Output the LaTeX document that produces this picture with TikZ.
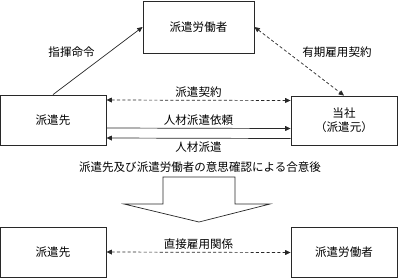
\documentclass[tikz,border=0pt]{standalone}
\usepackage{fontspec}
\newfontfamily\jpfont{Noto Sans CJK JP}
\usepackage{tikz}
\usetikzlibrary{positioning, arrows.meta}
\definecolor{LineGray}{RGB}{40,40,40}

\begin{document}
\begin{tikzpicture}[x=0.025cm, y=-0.025cm,
          font=\jpfont\fontsize{8.2}{10}\selectfont,
          party/.style={rectangle, minimum width=2.65cm, minimum height=1.25cm,
                        align=center, draw=LineGray, line width=0.6pt},
          arr/.style={-{Triangle[length=3.8pt, width=3.4pt]}, draw=LineGray, line width=0.5pt},
          dbl/.style={{Triangle[length=3.8pt, width=3.4pt]}-{Triangle[length=3.8pt, width=3.4pt]},
                      draw=LineGray, line width=0.5pt, dash pattern=on 2.2pt off 1.6pt},
          lbl/.style={inner sep=0.5pt}
        ]
        \useasboundingbox (0,0) rectangle (398,278);

        % Parties
        \node[party, minimum width=2.775cm, minimum height=1.3cm]
              (worker) at (198.5, 27) {派遣労働者};
        \node[party] (client) at (53, 120) {派遣先};
        \node[party, minimum height=1.225cm]
              (agency) at (344, 120.5) {当社\\（派遣元）};

        % Current relations
        \draw[arr] (client.north) -- (worker.west)
              node[lbl, midway, anchor=south east, xshift=-1.5pt, yshift=1.5pt] {指揮命令};
        \draw[dbl] (worker.east) -- (agency.north)
              node[lbl, midway, anchor=south west, xshift=1.5pt, yshift=2pt] {有期雇用契約};
        \draw[dbl] ([yshift=0.5cm]client.east) -- ([yshift=0.5cm]agency.west)
              node[lbl, midway, above=1.5pt] {派遣契約};
        \draw[arr] ([yshift=-0.2cm]client.east) -- ([yshift=-0.2cm]agency.west)
              node[lbl, midway, above=1.5pt] {人材派遣依頼};
        \draw[arr] ([yshift=-0.45cm]agency.west) -- ([yshift=-0.45cm]client.east)
              node[lbl, midway, below=1.5pt] {人材派遣};

        % Transition
        \node (cond) at (200, 167) {派遣先及び派遣労働者の意思確認による合意後};
        \draw[LineGray, line width=0.5pt]
              (163,177) -- (235,177) -- (235,204) -- (270,204) -- (199,222)
              -- (124,204) -- (163,204) -- cycle;

        % After direct hire
        \node[party] (client2) at (53, 252) {派遣先};
        \node[party] (worker2) at (344, 252.5) {派遣労働者};
        \draw[dbl] (client2.east) -- (worker2.west)
              node[lbl, midway, above=1.5pt] {直接雇用関係};
      \end{tikzpicture}
\end{document}
